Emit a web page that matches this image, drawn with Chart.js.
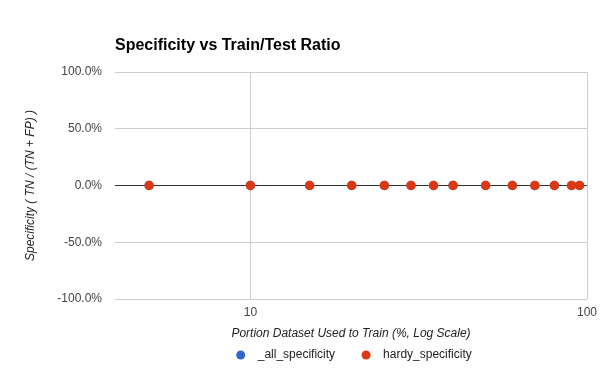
<!DOCTYPE html>
<html>
<head>
<meta charset="utf-8">
<script src="https://cdn.jsdelivr.net/npm/chart.js@4/dist/chart.umd.min.js"></script>
<style>
  html, body { margin: 0; padding: 0; background: #fff; }
  #chart { display: block; }
</style>
</head>
<body>
<canvas id="chart" width="600" height="371"></canvas>
<script>
// chart data
const chartTitle = 'Specificity vs Train/Test Ratio';
const trainPortions = [5, 10, 15, 20, 25, 30, 35, 40, 50, 60, 70, 80, 90, 95];
const allSpecificity = [0, 0, 0, 0, 0, 0, 0, 0, 0, 0, 0, 0, 0, 0];
const hardySpecificity = [0, 0, 0, 0, 0, 0, 0, 0, 0, 0, 0, 0, 0, 0];
const seriesNames = ['_all_specificity', 'hardy_specificity'];
const seriesColors = ['#3366cc', '#dc3912'];
const xTickValues = [10, 100];
const xAxisTitle = 'Portion Dataset Used to Train (%, Log Scale)';
const yAxisTitle = 'Specificity ( TN / (TN + FP) )';

function toPoints(xs, ys) {
  return xs.map((x, i) => ({ x: x, y: ys[i] }));
}

// title drawn at the left edge of the plot area, like the original
const titlePlugin = {
  id: 'leftTitle',
  afterDraw(chart) {
    const ctx = chart.ctx;
    ctx.save();
    ctx.font = 'bold 16px "Liberation Sans", Arial, sans-serif';
    ctx.fillStyle = '#000';
    ctx.textAlign = 'left';
    ctx.textBaseline = 'alphabetic';
    ctx.fillText(chartTitle, chart.chartArea.left, 50);
    ctx.restore();
  }
};

// legend with dot + label, centred under the plot
const legendPlugin = {
  id: 'dotLegend',
  afterDraw(chart) {
    const ctx = chart.ctx;
    const y = 355;
    ctx.save();
    ctx.font = '12px "Liberation Sans", Arial, sans-serif';
    const widths = seriesNames.map(n => ctx.measureText(n).width);
    const dotToText = 17, itemGap = 31, r = 4.5;
    let total = 0;
    widths.forEach((w, i) => { total += r + dotToText + w + (i < widths.length - 1 ? itemGap - r : 0); });
    let x = (chart.chartArea.left + chart.chartArea.right) / 2 + 3 - total / 2 + r;
    seriesNames.forEach((name, i) => {
      ctx.beginPath();
      ctx.fillStyle = seriesColors[i];
      ctx.arc(x, y, r, 0, Math.PI * 2);
      ctx.fill();
      ctx.fillStyle = '#222';
      ctx.textAlign = 'left';
      ctx.textBaseline = 'middle';
      ctx.fillText(name, x + dotToText, y);
      x += dotToText + widths[i] + itemGap;
    });
    ctx.restore();
  }
};

const tickFont = { family: '"Liberation Sans", Arial, sans-serif', size: 12 };
const axisTitleFont = { family: '"Liberation Sans", Arial, sans-serif', size: 12, style: 'italic' };

new Chart(document.getElementById('chart'), {
  type: 'scatter',
  data: {
    datasets: [
      {
        label: seriesNames[0],
        data: toPoints(trainPortions, allSpecificity),
        backgroundColor: seriesColors[0],
        borderWidth: 0,
        pointRadius: 4.7,
        pointHoverRadius: 4.7,
        order: 1
      },
      {
        label: seriesNames[1],
        data: toPoints(trainPortions, hardySpecificity),
        backgroundColor: seriesColors[1],
        borderWidth: 0,
        pointRadius: 4.7,
        pointHoverRadius: 4.7,
        order: 0
      }
    ]
  },
  options: {
    responsive: false,
    animation: false,
    devicePixelRatio: 1,
    layout: { padding: { top: 72, right: 13, bottom: 28, left: 0 } },
    plugins: {
      legend: { display: false },
      title: { display: false },
      tooltip: { enabled: false }
    },
    scales: {
      x: {
        type: 'logarithmic',
        min: 3.96,
        max: 100,
        afterBuildTicks(scale) {
          scale.ticks = xTickValues.map(v => ({ value: v }));
        },
        afterFit(scale) {
          scale.height = 44;
          scale.paddingLeft = 0;
          scale.paddingRight = 0;
        },
        ticks: {
          font: tickFont,
          color: '#444',
          padding: 6,
          maxRotation: 0,
          callback: v => String(v)
        },
        grid: { color: '#cccccc', drawTicks: false },
        border: { display: false },
        title: {
          display: true,
          text: xAxisTitle,
          font: axisTitleFont,
          color: '#222',
          padding: { top: 0, bottom: 2 }
        }
      },
      y: {
        min: -1,
        max: 1,
        afterFit(scale) {
          scale.width = 115;
          scale.paddingTop = 0;
          scale.paddingBottom = 0;
        },
        ticks: {
          stepSize: 0.5,
          font: tickFont,
          color: '#444',
          padding: 13,
          callback: v => (v * 100).toFixed(1) + '%'
        },
        grid: {
          drawTicks: false,
          color: ctx => (ctx.tick && ctx.tick.value === 0 ? '#333333' : '#cccccc')
        },
        border: { display: false },
        title: {
          display: true,
          text: yAxisTitle,
          font: axisTitleFont,
          color: '#222',
          padding: { top: 23, bottom: 0 }
        }
      }
    }
  },
  plugins: [titlePlugin, legendPlugin]
});
</script>
</body>
</html>
